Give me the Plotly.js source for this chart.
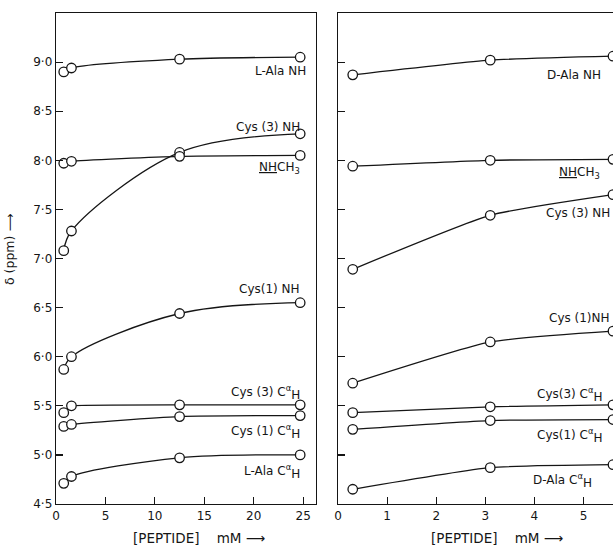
<!DOCTYPE html>
<html>
<head>
<meta charset="utf-8">
<script src="https://cdn.plot.ly/plotly-3.0.1.min.js"></script>
<style>
  html, body { margin: 0; padding: 0; background: #fff; }
  #plot { width: 613px; height: 551px; }
</style>
</head>
<body>
<div id="plot"></div>
<script>
// peptide concentrations (mM)
const leftX = [0.78, 1.56, 12.5, 24.7];
const rightX = [0.3, 3.1, 5.6];

// left panel shifts (ppm)
const leftAlaNH = [8.90, 8.94, 9.03, 9.05];
const leftCys3NH = [7.08, 7.28, 8.08, 8.27];
const leftNHCH3 = [7.97, 7.99, 8.04, 8.05];
const leftCys1NH = [5.87, 6.00, 6.44, 6.55];
const leftCys3CaH = [5.43, 5.50, 5.51, 5.51];
const leftCys1CaH = [5.29, 5.31, 5.39, 5.40];
const leftAlaCaH = [4.71, 4.78, 4.97, 5.00];

// right panel shifts (ppm)
const rightAlaNH = [8.87, 9.02, 9.06];
const rightNHCH3 = [7.94, 8.00, 8.01];
const rightCys3NH = [6.89, 7.44, 7.65];
const rightCys1NH = [5.73, 6.15, 6.26];
const rightCys3CaH = [5.43, 5.49, 5.51];
const rightCys1CaH = [5.26, 5.35, 5.36];
const rightAlaCaH = [4.65, 4.87, 4.90];

const yTicks = [4.5, 5, 5.5, 6, 6.5, 7, 7.5, 8, 8.5, 9];
const yTickText = ["4·5", "5·0", "5·5", "6·0", "6·5", "7·0", "7·5", "8·0", "8·5", "9·0"];

const CaH = 'C<sup>α</sup><sub><span style="font-size:12px">H</span></sub>';
const leftLabels = [
	["L-Ala NH", 25.45, 8.91],
	["Cys (3) NH", 24.85, 8.34],
	["<u>NH</u>CH<sub>3</sub>", 24.85, 7.92],
	["Cys(1) NH", 24.85, 6.69],
	["Cys (3) " + CaH, 24.85, 5.64],
	["Cys (1) " + CaH, 24.85, 5.24],
	["L-Ala " + CaH, 24.85, 4.83],
];
const rightLabels = [
	["D-Ala NH", 5.39, 8.87],
	["<u>NH</u>CH<sub>3</sub>", 5.37, 7.87],
	["Cys (3) NH", 5.58, 7.46],
	["Cys (1)NH", 5.58, 6.39],
	["Cys(3) " + CaH, 5.43, 5.62],
	["Cys(1) " + CaH, 5.43, 5.20],
	["D-Ala " + CaH, 5.22, 4.74],
];

const ink = "#151515";
const fontFam = "DejaVu Sans, sans-serif";

function trace(x, y, xa, ya, smoothing) {
	return {
		x, y,
		xaxis: xa, yaxis: ya,
		type: "scatter",
		mode: "lines+markers",
		line: { color: ink, width: 1.3, shape: "spline", smoothing },
		marker: { symbol: "circle", size: 9.5, color: "#fff", line: { color: ink, width: 1.3 } },
		showlegend: false,
		hoverinfo: "skip",
	};
}

const data = [
	trace(leftX, leftAlaNH, "x", "y", 0.8),
	trace(leftX, leftCys3NH, "x", "y", 1),
	trace(leftX, leftNHCH3, "x", "y", 0.5),
	trace(leftX, leftCys1NH, "x", "y", 1),
	trace(leftX, leftCys3CaH, "x", "y", 0.2),
	trace(leftX, leftCys1CaH, "x", "y", 0.6),
	trace(leftX, leftAlaCaH, "x", "y", 0.9),
	...[rightAlaNH, rightNHCH3, rightCys3NH, rightCys1NH, rightCys3CaH, rightCys1CaH, rightAlaCaH]
		.map((y) => trace(rightX, y, "x2", "y2", 0.5)),
];

const labelAnn = (arr, xref, yref) => arr.map(([text, x, y]) => ({
	text, x, y, xref, yref,
	xanchor: "right", yanchor: "middle",
	showarrow: false,
	font: { family: fontFam, size: 12, color: ink },
}));

const axisBase = {
	showline: true,
	linecolor: ink,
	linewidth: 1.3,
	ticks: "inside",
	ticklen: 7,
	tickwidth: 1.2,
	tickcolor: ink,
	showgrid: false,
	zeroline: false,
	tickfont: { family: fontFam, size: 12, color: ink },
};

const xTitle = "[PEPTIDE]&nbsp;&nbsp;&nbsp;&nbsp;mM&nbsp;⟶";

const layout = {
	width: 613,
	height: 551,
	margin: { l: 0, r: 0, t: 0, b: 0 },
	paper_bgcolor: "#fff",
	plot_bgcolor: "#fff",
	xaxis: { ...axisBase, domain: [0.0914, 0.5155], range: [0, 26.3], tickvals: [0, 5, 10, 15, 20, 25], mirror: true, anchor: "y" },
	yaxis: { ...axisBase, domain: [0.0853, 0.9764], range: [4.5, 9.5], tickvals: yTicks, ticktext: yTickText, mirror: true, anchor: "x" },
	xaxis2: { ...axisBase, domain: [0.5514, 1.0], range: [0, 5.6], tickvals: [0, 1, 2, 3, 4, 5], mirror: true, anchor: "y2" },
	yaxis2: { ...axisBase, domain: [0.0853, 0.9764], range: [4.5, 9.5], tickvals: yTicks, showticklabels: false, anchor: "x2" },
	annotations: [
		...labelAnn(leftLabels, "x", "y"),
		...labelAnn(rightLabels, "x2", "y2"),
		{
			text: "δ (ppm) ⟶", xref: "paper", yref: "paper",
			x: 10 / 613, y: 1 - 250 / 551, textangle: -90,
			xanchor: "center", yanchor: "middle",
			showarrow: false, font: { family: fontFam, size: 12.5, color: ink },
		},
		{
			text: xTitle, xref: "paper", yref: "paper",
			x: 199 / 613, y: 1 - 538 / 551,
			xanchor: "center", yanchor: "middle",
			showarrow: false, font: { family: fontFam, size: 13.5, color: ink },
		},
		{
			text: xTitle, xref: "paper", yref: "paper",
			x: 497 / 613, y: 1 - 538 / 551,
			xanchor: "center", yanchor: "middle",
			showarrow: false, font: { family: fontFam, size: 13.5, color: ink },
		},
	],
};

Plotly.newPlot("plot", data, layout, { displayModeBar: false, staticPlot: true });
</script>
</body>
</html>
